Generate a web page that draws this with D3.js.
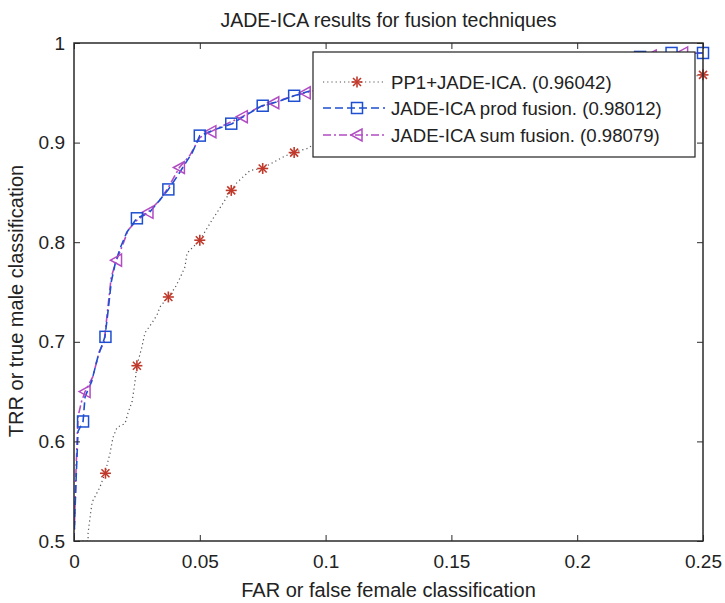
<!DOCTYPE html>
<html>
<head>
<meta charset="utf-8">
<script src="https://cdn.jsdelivr.net/npm/d3@7"></script>
<style>
  body { margin: 0; background: #fff; }
  svg text { font-family: "Liberation Sans", Arial, sans-serif; fill: #222; }
</style>
</head>
<body>
<div id="chart"></div>
<script>
// ROC curves: [FAR, TRR]
const pp1Curve = [[0,0.5],[0.0056,0.5],[0.0056,0.508],[0.0064,0.524],[0.0072,0.539],[0.0103,0.554],[0.0123,0.568],[0.0143,0.588],[0.0155,0.604],[0.0171,0.614],[0.0203,0.618],[0.0215,0.629],[0.0231,0.640],[0.0242,0.659],[0.025,0.676],[0.027,0.695],[0.0282,0.709],[0.031,0.719],[0.033,0.727],[0.0342,0.735],[0.0374,0.745],[0.0401,0.754],[0.0421,0.764],[0.0441,0.775],[0.0449,0.789],[0.050,0.802],[0.0548,0.822],[0.0592,0.839],[0.0624,0.852],[0.0648,0.860],[0.070,0.872],[0.0747,0.874],[0.0791,0.880],[0.0827,0.885],[0.087,0.890],[0.0926,0.894],[0.1,0.905],[0.12,0.92],[0.15,0.936],[0.18,0.946],[0.2,0.952],[0.23,0.961],[0.25,0.968]];
const pp1Marks = [[0.0125,0.568],[0.025,0.676],[0.0375,0.745],[0.05,0.802],[0.0625,0.852],[0.075,0.874],[0.0875,0.890],[0.1,0.905],[0.1125,0.913],[0.125,0.922],[0.1375,0.93],[0.15,0.936],[0.1625,0.94],[0.175,0.944],[0.1875,0.948],[0.2,0.952],[0.2125,0.955],[0.225,0.959],[0.2375,0.963],[0.25,0.968]];

const prodCurve = [[0,0.5],[0.0008,0.56],[0.0016,0.61],[0.0036,0.62],[0.0044,0.645],[0.007,0.66],[0.0095,0.685],[0.0123,0.705],[0.0135,0.73],[0.0148,0.76],[0.0165,0.78],[0.0185,0.795],[0.021,0.81],[0.025,0.824],[0.03,0.83],[0.034,0.842],[0.0375,0.853],[0.041,0.866],[0.044,0.878],[0.047,0.89],[0.05,0.907],[0.056,0.913],[0.0628,0.919],[0.068,0.927],[0.0747,0.937],[0.081,0.941],[0.0874,0.947],[0.094,0.952],[0.1,0.955],[0.12,0.962],[0.15,0.97],[0.18,0.976],[0.2,0.98],[0.22,0.985],[0.237,0.99],[0.25,0.99]];
const prodMarks = [[0.0036,0.62],[0.0125,0.705],[0.025,0.824],[0.0375,0.853],[0.05,0.907],[0.0625,0.919],[0.075,0.937],[0.0875,0.947],[0.1,0.955],[0.1125,0.96],[0.125,0.964],[0.1375,0.967],[0.15,0.97],[0.1625,0.972],[0.175,0.975],[0.1875,0.977],[0.2,0.98],[0.2125,0.983],[0.225,0.986],[0.2375,0.99],[0.25,0.99]];

const sumCurve = [[0,0.5],[0.0008,0.57],[0.0016,0.625],[0.003,0.64],[0.0044,0.65],[0.0075,0.665],[0.01,0.69],[0.012,0.70],[0.0135,0.735],[0.0148,0.765],[0.0169,0.782],[0.019,0.795],[0.0215,0.812],[0.025,0.822],[0.0294,0.830],[0.034,0.842],[0.0375,0.855],[0.0419,0.875],[0.046,0.887],[0.05,0.905],[0.0544,0.911],[0.06,0.918],[0.0669,0.926],[0.073,0.935],[0.0794,0.94],[0.086,0.946],[0.0919,0.95],[0.1,0.955],[0.13,0.965],[0.16,0.972],[0.2,0.981],[0.23,0.988],[0.25,0.99]];
const sumMarks = [[0.0044,0.65],[0.0169,0.782],[0.0294,0.830],[0.0419,0.875],[0.0544,0.911],[0.0669,0.926],[0.0794,0.94],[0.0919,0.95],[0.1044,0.956],[0.1169,0.96],[0.1294,0.965],[0.1419,0.968],[0.1544,0.97],[0.1669,0.973],[0.1794,0.976],[0.1919,0.979],[0.2044,0.982],[0.2169,0.984],[0.2294,0.987],[0.2419,0.99]];

const legendLabels = ["PP1+JADE-ICA. (0.96042)", "JADE-ICA prod fusion. (0.98012)", "JADE-ICA sum fusion. (0.98079)"];
const xTicks = [0, 0.05, 0.1, 0.15, 0.2, 0.25];
const yTicks = [0.5, 0.6, 0.7, 0.8, 0.9, 1];

const width = 725, height = 603;
const margin = { top: 43, right: 22, bottom: 62, left: 74 };
const innerW = width - margin.left - margin.right;
const innerH = height - margin.top - margin.bottom;

const svg = d3.select("#chart").append("svg")
  .attr("width", width).attr("height", height);

const g = svg.append("g").attr("transform", `translate(${margin.left},${margin.top})`);

const x = d3.scaleLinear().domain([0, 0.25]).range([0, innerW]);
const y = d3.scaleLinear().domain([0.5, 1]).range([innerH, 0]);

svg.append("defs").append("clipPath").attr("id", "clip")
  .append("rect").attr("width", innerW).attr("height", innerH);

const line = d3.line().x((d) => x(d[0])).y((d) => y(d[1]));

const colors = { pp1: "#555", star: "#c0392b", prod: "#1f4fd1", sum: "#b14cc3" };

// markers
function star(sel, cx, cy) {
  const r = 5.5, r2 = 4;
  [[-r, 0, r, 0], [0, -r, 0, r], [-r2, -r2, r2, r2], [-r2, r2, r2, -r2]].forEach((s) => {
    sel.append("line")
      .attr("x1", cx + s[0]).attr("y1", cy + s[1]).attr("x2", cx + s[2]).attr("y2", cy + s[3])
      .attr("stroke", colors.star).attr("stroke-width", 1.6);
  });
}
function square(sel, cx, cy) {
  sel.append("rect").attr("x", cx - 5.5).attr("y", cy - 5.5).attr("width", 11).attr("height", 11)
    .attr("fill", "none").attr("stroke", colors.prod).attr("stroke-width", 1.5);
}
function tri(sel, cx, cy) {
  sel.append("path").attr("d", `M${cx - 6},${cy} L${cx + 5},${cy - 6} L${cx + 5},${cy + 6} Z`)
    .attr("fill", "none").attr("stroke", colors.sum).attr("stroke-width", 1.5);
}

const plotG = g.append("g").attr("clip-path", "url(#clip)");

plotG.append("path").attr("d", line(pp1Curve))
  .attr("fill", "none").attr("stroke", colors.pp1).attr("stroke-width", 1.2)
  .attr("stroke-dasharray", "1.2,3");
plotG.append("path").attr("d", line(sumCurve))
  .attr("fill", "none").attr("stroke", colors.sum).attr("stroke-width", 1.6)
  .attr("stroke-dasharray", "8,3,2,3");
plotG.append("path").attr("d", line(prodCurve))
  .attr("fill", "none").attr("stroke", colors.prod).attr("stroke-width", 1.6)
  .attr("stroke-dasharray", "8,4");

const markG = g.append("g");
pp1Marks.forEach((d) => star(markG, x(d[0]), y(d[1])));
sumMarks.forEach((d) => tri(markG, x(d[0]), y(d[1])));
prodMarks.forEach((d) => square(markG, x(d[0]), y(d[1])));

// axes box with inward ticks on all sides
const axisColor = "#2a2a2a";
const tickLen = 6;
g.append("g").attr("transform", `translate(0,${innerH})`)
  .call(d3.axisBottom(x).tickValues(xTicks).tickSize(-tickLen).tickPadding(14).tickFormat(d3.format("~g")))
  .call((a) => a.select(".domain").remove());
g.append("g")
  .call(d3.axisTop(x).tickValues(xTicks).tickSize(-tickLen).tickFormat(""))
  .call((a) => a.select(".domain").remove());
g.append("g")
  .call(d3.axisLeft(y).tickValues(yTicks).tickSize(-tickLen).tickPadding(9).tickFormat(d3.format("~g")))
  .call((a) => a.select(".domain").remove());
g.append("g").attr("transform", `translate(${innerW},0)`)
  .call(d3.axisRight(y).tickValues(yTicks).tickSize(-tickLen).tickFormat(""))
  .call((a) => a.select(".domain").remove());
g.selectAll(".tick line").attr("stroke", axisColor);
g.selectAll(".tick text").attr("font-size", 19).attr("fill", "#222");

g.append("rect").attr("width", innerW).attr("height", innerH)
  .attr("fill", "none").attr("stroke", axisColor).attr("stroke-width", 1.5);

// legend
const lg = svg.append("g").attr("transform", "translate(313,52)");
lg.append("rect").attr("width", 382).attr("height", 105)
  .attr("fill", "#fff").attr("stroke", "#222").attr("stroke-width", 1.2);
const rowY = [30, 56, 83];
const lineStyles = [
  { stroke: colors.pp1, dash: "1.2,3", w: 1.2, mark: star },
  { stroke: colors.prod, dash: "8,4", w: 1.6, mark: square },
  { stroke: colors.sum, dash: "8,3,2,3", w: 1.6, mark: tri }
];
legendLabels.forEach((label, i) => {
  const s = lineStyles[i];
  lg.append("line").attr("x1", 10).attr("x2", 72).attr("y1", rowY[i]).attr("y2", rowY[i])
    .attr("stroke", s.stroke).attr("stroke-width", s.w).attr("stroke-dasharray", s.dash);
  s.mark(lg, 44, rowY[i]);
  lg.append("text").attr("x", 78).attr("y", rowY[i]).attr("dy", "0.36em")
    .attr("font-size", 18.6).text(label);
});

// title and axis labels
svg.append("text").attr("x", margin.left + innerW / 2).attr("y", 27)
  .attr("text-anchor", "middle").attr("font-size", 19.5)
  .text("JADE-ICA results for fusion techniques");
svg.append("text").attr("x", margin.left + innerW / 2).attr("y", 597)
  .attr("text-anchor", "middle").attr("font-size", 20)
  .text("FAR or false female classification");
svg.append("text").attr("transform", `translate(23,301) rotate(-90)`)
  .attr("text-anchor", "middle").attr("font-size", 20)
  .text("TRR or true male classification");
</script>
</body>
</html>
